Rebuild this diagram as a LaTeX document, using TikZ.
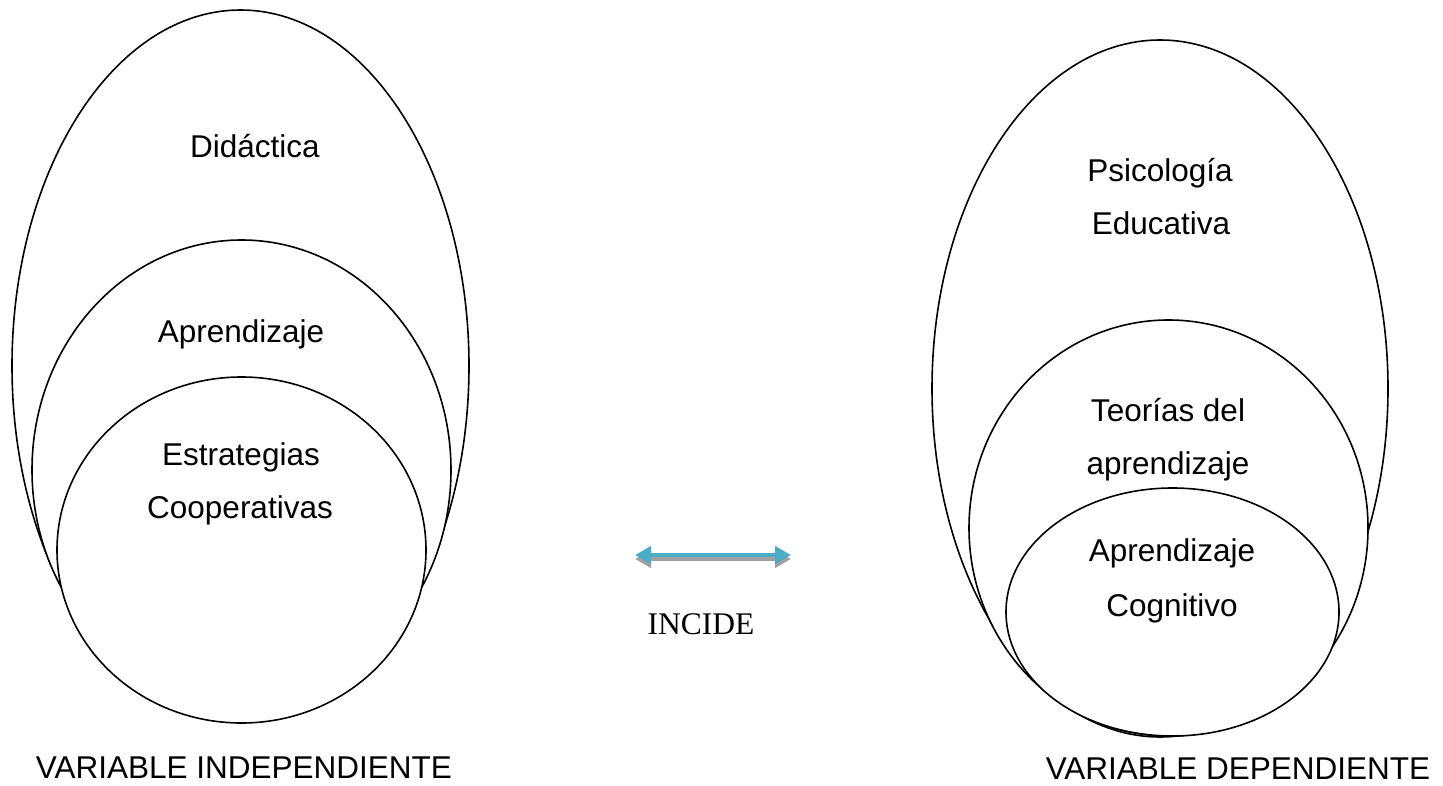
\documentclass[tikz,border=0pt]{standalone}
\usepackage{fontspec}
\setmainfont{Liberation Sans}
\newfontfamily\timesfont{Liberation Serif}
\usetikzlibrary{shapes.geometric,arrows.meta}
\definecolor{arrowblue}{HTML}{4BACC6}
\definecolor{shadowgray}{HTML}{A0A0A0}
\tikzset{
  oval/.style={draw=black, line width=1.6pt, fill=white, ellipse, inner sep=0pt, outer sep=0pt},
  lbl/.style={font=\fontsize{31.5}{38}\selectfont, anchor=base, inner sep=0pt},
  inc/.style={font=\timesfont\fontsize{31.5}{38}\selectfont, anchor=base, inner sep=0pt},
  dbl/.style={line width=4.5pt, {Triangle[length=16pt,width=17pt]}-{Triangle[length=16pt,width=17pt]}},
}
\begin{document}
\begin{tikzpicture}[x=1pt,y=-1pt]
\useasboundingbox[fill=white] (0,0) rectangle (1443,786);
% left group
\node[oval, minimum width=457pt, minimum height=712pt] (Lo) at (240.5,366) {};
\node[oval, minimum width=419pt, minimum height=460pt] (Lm) at (241.5,470) {};
\node[oval, minimum width=369pt, minimum height=346pt] (Li) at (241.5,550) {};
\node[lbl] (tDid) at (255,158) {Didáctica};
\node[lbl] (tApr) at (241,342) {Aprendizaje};
\node[lbl] (tEst) at (241,465) {Estrategias};
\node[lbl] (tCoo) at (240,518) {Cooperativas};
\node[lbl] (tVI) at (244,778) {VARIABLE INDEPENDIENTE};
% right group
\node[oval, minimum width=456pt, minimum height=697pt] (Ro) at (1160,388.5) {};
\node[oval, minimum width=399pt, minimum height=416pt] (Rm) at (1168.5,528) {};
\node[oval, minimum width=333pt, minimum height=248pt] (Ri) at (1172.5,612) {};
\node[lbl] (tPsi) at (1160,182) {Psicología};
\node[lbl] (tEdu) at (1161,235) {Educativa};
\node[lbl] (tTeo) at (1168,421) {Teorías del};
\node[lbl] (tApd) at (1168,474) {aprendizaje};
\node[lbl] (tAC) at (1172,561) {Aprendizaje};
\node[lbl] (tCog) at (1172,616) {Cognitivo};
\node[lbl] (tVD) at (1238,779) {VARIABLE DEPENDIENTE};
% arrow
\coordinate (aL) at (635,555);
\coordinate (aR) at (791,555);
\draw[dbl, shadowgray] ([shift={(0,4)}]aL) -- ([shift={(0,4)}]aR);
\draw[dbl, arrowblue] (aL) -- (aR);
\node[inc] (tInc) at (701,634) {INCIDE};
\end{tikzpicture}
\end{document}
